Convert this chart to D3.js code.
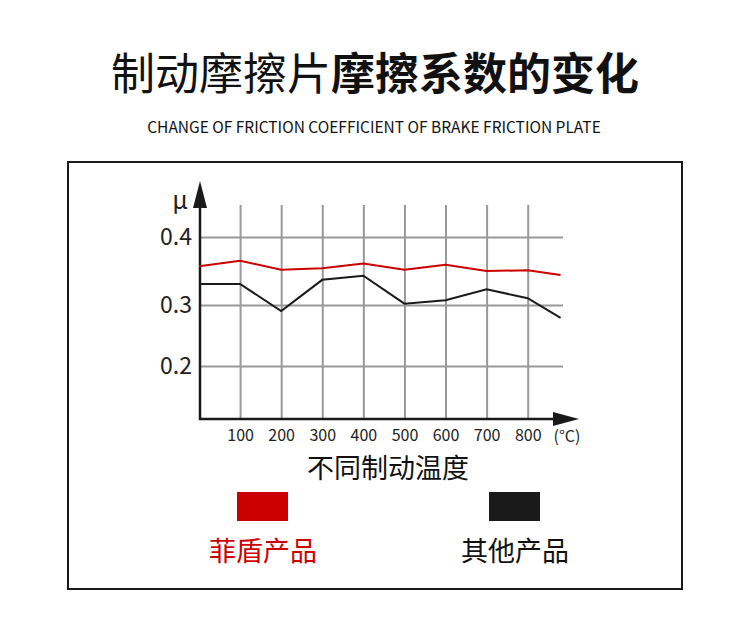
<!DOCTYPE html>
<html>
<head>
<meta charset="utf-8">
<script src="https://cdn.jsdelivr.net/npm/d3@7"></script>
<style>
  html, body { margin: 0; padding: 0; background: #fff; }
  svg { display: block; font-family: "Noto Sans CJK SC", "Noto Sans", sans-serif; }
</style>
</head>
<body>
<svg id="chart" width="750" height="632"></svg>
<script>
// temperatures (°C) and friction coefficient readings
const temps = [0, 100, 200, 300, 400, 500, 600, 700, 800, 880];
const feidun = [0.357, 0.365, 0.352, 0.354, 0.361, 0.352, 0.359, 0.350, 0.351, 0.344];
const others = [0.331, 0.331, 0.290, 0.337, 0.343, 0.302, 0.307, 0.323, 0.310, 0.279];
const xTicks = [100, 200, 300, 400, 500, 600, 700, 800];
const yTicks = [0.2, 0.3, 0.4];
const seriesNames = ['菲盾产品', '其他产品'];
const seriesColors = ['#cc0000', '#1a1a1a'];

const svg = d3.select('#chart');

// frame
svg.append('rect')
  .attr('x', 68).attr('y', 162)
  .attr('width', 614).attr('height', 427)
  .attr('fill', 'none')
  .attr('stroke', '#1a1a1a')
  .attr('stroke-width', 2);

// titles
const title = svg.append('text')
  .attr('x', 375).attr('y', 90)
  .attr('text-anchor', 'middle')
  .attr('font-size', 44)
  .attr('fill', '#111');
title.append('tspan').attr('font-weight', 400).text('制动摩擦片');
title.append('tspan').attr('font-weight', 700).text('摩擦系数的变化');

svg.append('text')
  .attr('x', 374).attr('y', 133)
  .attr('text-anchor', 'middle')
  .attr('font-size', 15.5)
  .attr('fill', '#111')
  .text('CHANGE OF FRICTION COEFFICIENT OF BRAKE FRICTION PLATE');

// scales (the picture's y spacing is uneven, so the scale is piecewise)
const x = d3.scaleLinear().domain([0, 800]).range([199, 527.7]);
const y = d3.scaleLinear().domain([0.2, 0.3, 0.4]).range([366, 305, 237]);

const axisY0 = 419;
const gridTop = 205;
const gridRight = 563;

// vertical grid + x labels
const gx = svg.append('g')
  .attr('transform', 'translate(0,' + axisY0 + ')')
  .call(d3.axisBottom(x).tickValues(xTicks).tickSize(-(axisY0 - gridTop)).tickPadding(11).tickFormat(d3.format('d')));
gx.select('.domain').remove();
gx.selectAll('.tick line').attr('stroke', '#999').attr('stroke-width', 2);
gx.selectAll('.tick text')
  .attr('font-size', 16)
  .attr('fill', '#222')
  .attr('font-family', '"Noto Sans CJK SC", sans-serif');

// horizontal grid + y labels
const gy = svg.append('g')
  .attr('transform', 'translate(200,0)')
  .call(d3.axisLeft(y).tickValues(yTicks).tickSize(-(gridRight - 200)).tickPadding(8).tickFormat(d3.format('.1f')));
gy.select('.domain').remove();
gy.selectAll('.tick line').attr('stroke', '#999').attr('stroke-width', 2);
gy.selectAll('.tick text')
  .attr('font-size', 23)
  .attr('fill', '#222')
  .attr('font-family', '"Noto Sans CJK SC", sans-serif');

// axes with arrows
svg.append('line')
  .attr('x1', 200).attr('y1', axisY0 + 1).attr('x2', 200).attr('y2', 200)
  .attr('stroke', '#1a1a1a').attr('stroke-width', 2.5);
svg.append('path')
  .attr('d', 'M200,181 L193,208 L207,208 Z')
  .attr('fill', '#1a1a1a');
svg.append('line')
  .attr('x1', 199).attr('y1', axisY0).attr('x2', 560).attr('y2', axisY0)
  .attr('stroke', '#1a1a1a').attr('stroke-width', 2.5);
svg.append('path')
  .attr('d', 'M579,419 L553,412 L553,426 Z')
  .attr('fill', '#1a1a1a');

svg.append('text')
  .attr('x', 180).attr('y', 209)
  .attr('text-anchor', 'middle')
  .attr('font-size', 25)
  .attr('fill', '#222')
  .text('μ');
svg.append('text')
  .attr('x', 567).attr('y', 442)
  .attr('text-anchor', 'middle')
  .attr('font-size', 16)
  .attr('fill', '#222')
  .text('(°C)');

svg.append('text')
  .attr('x', 388).attr('y', 478)
  .attr('text-anchor', 'middle')
  .attr('font-size', 27)
  .attr('fill', '#111')
  .text('不同制动温度');

// lines
const line = d3.line()
  .x((d, i) => x(temps[i]))
  .y((d) => y(d));

[feidun, others].forEach((vals, i) => {
  svg.append('path')
    .datum(vals)
    .attr('d', line)
    .attr('fill', 'none')
    .attr('stroke', seriesColors[i])
    .attr('stroke-width', 2);
});

// legend
const legendX = [263, 515];
seriesNames.forEach((name, i) => {
  svg.append('rect')
    .attr('x', legendX[i] - 26).attr('y', 492)
    .attr('width', 51).attr('height', 29)
    .attr('fill', seriesColors[i]);
  svg.append('text')
    .attr('x', legendX[i]).attr('y', 561)
    .attr('text-anchor', 'middle')
    .attr('font-size', 27)
    .attr('fill', seriesColors[i] === '#1a1a1a' ? '#111' : seriesColors[i])
    .text(name);
});
</script>
</body>
</html>
